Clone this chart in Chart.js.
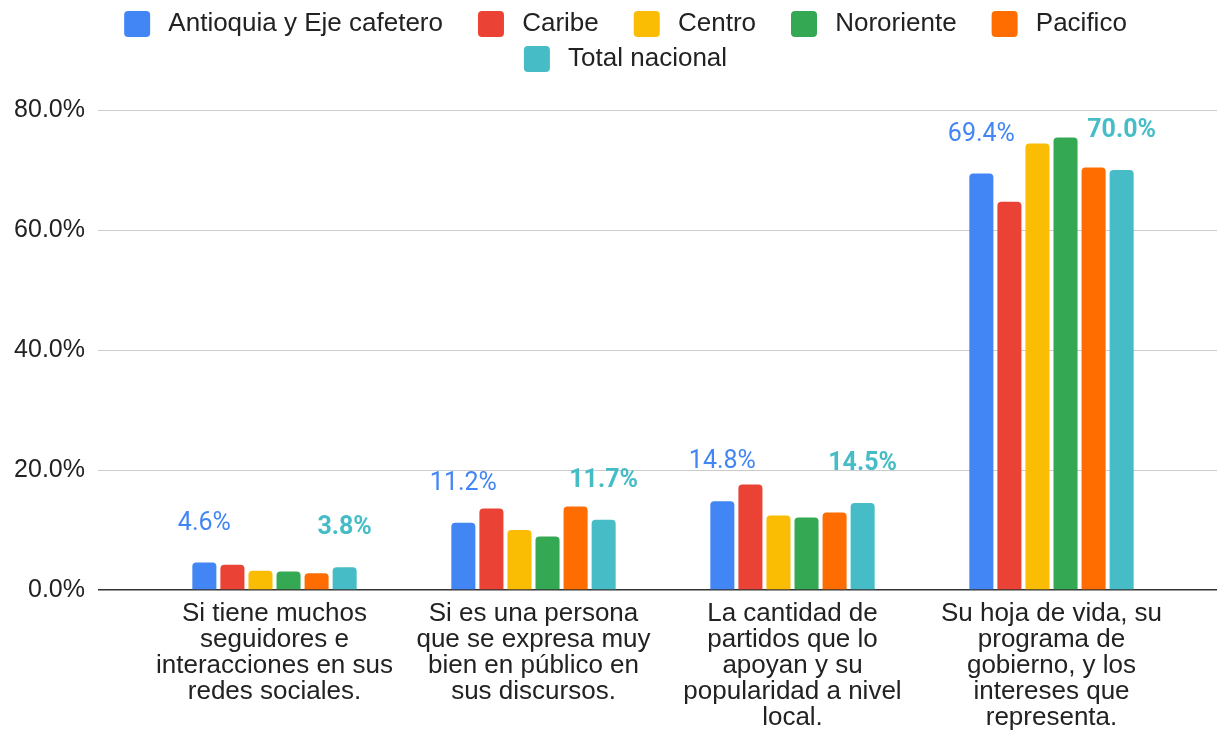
<!DOCTYPE html>
<html lang="es">
<head>
<meta charset="utf-8">
<title>Criterios de voto por región</title>
<script src="https://cdn.jsdelivr.net/npm/chart.js@4/dist/chart.umd.min.js"></script>
<style>
    html, body { margin: 0; padding: 0; background: #fff; }
    #chart-wrap { width: 1217px; height: 730px; position: relative; }
</style>
</head>
<body>
<div id="chart-wrap">
    <canvas id="regions-chart"></canvas>
</div>
<script>
const categories = [
    ['Si tiene muchos', 'seguidores e', 'interacciones en sus', 'redes sociales.'],
    ['Si es una persona', 'que se expresa muy', 'bien en público en', 'sus discursos.'],
    ['La cantidad de', 'partidos que lo', 'apoyan y su', 'popularidad a nivel', 'local.'],
    ['Su hoja de vida, su', 'programa de', 'gobierno, y los', 'intereses que', 'representa.']
];

const regionNames = ['Antioquia y Eje cafetero', 'Caribe', 'Centro', 'Nororiente', 'Pacifico', 'Total nacional'];
const regionColors = ['#4285F4', '#EA4335', '#FBBC04', '#34A853', '#FF6D01', '#46BDC6'];

const antioquia = [4.6, 11.2, 14.8, 69.4];
const caribe = [4.2, 13.6, 17.6, 64.7];
const centro = [3.2, 10.0, 12.4, 74.4];
const nororiente = [3.1, 8.9, 12.1, 75.4];
const pacifico = [2.8, 13.9, 12.9, 70.4];
const totalNacional = [3.8, 11.7, 14.5, 70.0];

const yTicks = [0, 20, 40, 60, 80];

const seriesValues = [antioquia, caribe, centro, nororiente, pacifico, totalNacional];
// only the first and the last series get value labels
const labelledSeries = [0, 5];

const FONT = "'Liberation Sans', Arial, Helvetica, sans-serif";
const TEXT_COLOR = '#222';

function gridColor(ctx) {
    return ctx.tick && ctx.tick.value === 0 ? '#333' : '#ccc';
}

function gridWidth(ctx) {
    return ctx.tick && ctx.tick.value === 0 ? 1.5 : 1;
}

// extra room under the legend, and the legend nudged a bit to the right
const legendGap = {
    id: 'legendGap',
    beforeInit(chart) {
        const fit = chart.legend.fit;
        chart.legend.fit = function() {
            fit.bind(chart.legend)();
            this.height += 28;
        };
    },
    afterLayout(chart) {
        chart.legend.left += 30;
        chart.legend.right += 30;
    }
};

// value labels floating above the bars
const valueLabels = {
    id: 'valueLabels',
    afterDatasetsDraw(chart) {
        const ctx = chart.ctx;
        ctx.save();
        ctx.textAlign = 'center';
        ctx.textBaseline = 'middle';
        labelledSeries.forEach(i => {
            const meta = chart.getDatasetMeta(i);
            const bold = i === labelledSeries[labelledSeries.length - 1];
            ctx.font = (bold ? '700 ' : '400 ') + '25px Roboto, sans-serif';
            ctx.fillStyle = regionColors[i];
            meta.data.forEach((bar, j) => {
                const value = chart.data.datasets[i].data[j];
                ctx.fillText(value.toFixed(1) + '%', bar.x, bar.y - 39);
            });
        });
        ctx.restore();
    }
};

function buildDatasets() {
    return regionNames.map((name, i) => ({
        label: name,
        data: seriesValues[i],
        backgroundColor: regionColors[i],
        borderRadius: 4,
        borderSkipped: 'start',
        categoryPercentage: 0.65,
        barPercentage: 0.857
    }));
}

const ctx = document.getElementById('regions-chart').getContext('2d');

const chart = new Chart(ctx, {
    type: 'bar',
    data: {
        labels: categories,
        datasets: buildDatasets()
    },
    options: {
        responsive: true,
        maintainAspectRatio: false,
        animation: false,
        layout: { padding: { left: 0, top: 2, right: 0, bottom: 0 } },
        plugins: {
            legend: {
                position: 'top',
                labels: {
                    color: TEXT_COLOR,
                    font: { family: FONT, size: 26 },
                    boxWidth: 26,
                    boxHeight: 26,
                    padding: 9,
                    generateLabels(chart) {
                        const items = Chart.defaults.plugins.legend.labels.generateLabels(chart);
                        items.forEach(item => {
                            item.text = '\u2009' + item.text + '\u2003';
                            item.borderRadius = 4;
                            item.lineWidth = 0;
                        });
                        return items;
                    }
                }
            },
            tooltip: { enabled: false }
        },
        scales: {
            x: {
                afterFit(scale) {
                    scale.height = 140;
                },
                grid: { display: false, drawTicks: false },
                border: { display: false },
                ticks: {
                    color: TEXT_COLOR,
                    font: { family: FONT, size: 26, lineHeight: '26px' },
                    padding: 11,
                    maxRotation: 0,
                    autoSkip: false
                }
            },
            y: {
                min: 0,
                max: 80,
                afterBuildTicks(scale) {
                    scale.ticks = yTicks.map(v => ({ value: v }));
                },
                afterFit(scale) {
                    scale.width = 145;
                },
                border: { display: false },
                grid: {
                    color: gridColor,
                    tickColor: gridColor,
                    lineWidth: gridWidth,
                    tickLength: 47
                },
                ticks: {
                    color: TEXT_COLOR,
                    font: { family: FONT, size: 25 },
                    padding: 13,
                    callback: value => value.toFixed(1) + '%'
                }
            },
            y2: {
                position: 'right',
                min: 0,
                max: 80,
                afterBuildTicks(scale) {
                    scale.ticks = yTicks.map(v => ({ value: v }));
                },
                afterFit(scale) {
                    scale.width = 36;
                },
                border: { display: false },
                grid: {
                    drawOnChartArea: false,
                    color: gridColor,
                    tickColor: gridColor,
                    lineWidth: gridWidth,
                    tickLength: 36
                },
                ticks: { display: false }
            }
        }
    },
    plugins: [legendGap, valueLabels]
});
</script>
</body>
</html>
